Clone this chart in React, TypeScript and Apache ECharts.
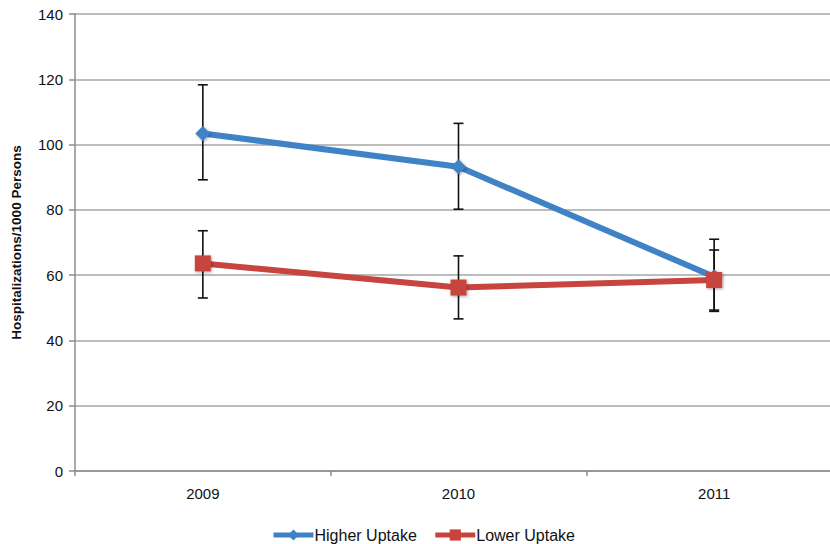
import React, { useEffect, useRef } from "react";
import * as echarts from "echarts";

const categories = ["2009", "2010", "2011"];
const higherValues = [103.4, 93.2, 59.5];
const higherLow = [89.2, 80.2, 49.3];
const higherHigh = [118.3, 106.5, 67.7];
const lowerValues = [63.6, 56.2, 58.5];
const lowerLow = [53.0, 46.6, 48.9];
const lowerHigh = [73.6, 65.9, 71.0];
const yTicks = { min: 0, max: 140, interval: 20 };

const BLUE = "#4082c6";
const RED = "#c8443e";
const FONT = "Liberation Sans";

function errorSeries(name: string, low: number[], high: number[]) {
  return {
    type: "custom",
    name: name + " error",
    z: 1,
    silent: true,
    data: categories.map((_, i) => [i, low[i], high[i]]),
    encode: { x: 0, y: [1, 2] },
    renderItem: (params: any, api: any) => {
      const idx = api.value(0);
      const lo = api.coord([idx, api.value(1)]);
      const hi = api.coord([idx, api.value(2)]);
      const half = 5;
      const style = { stroke: "#111", lineWidth: 1.6 };
      return {
        type: "group",
        children: [
          { type: "line", shape: { x1: lo[0], y1: lo[1], x2: hi[0], y2: hi[1] }, style },
          { type: "line", shape: { x1: lo[0] - half, y1: lo[1], x2: lo[0] + half, y2: lo[1] }, style },
          { type: "line", shape: { x1: hi[0] - half, y1: hi[1], x2: hi[0] + half, y2: hi[1] }, style },
        ],
      };
    },
  };
}

export default function App() {
  const ref = useRef<HTMLDivElement>(null);
  useEffect(() => {
    if (!ref.current) return;
    const chart = echarts.init(ref.current, undefined, { renderer: "svg" });
    chart.setOption({
      animation: false,
      backgroundColor: "#ffffff",
      textStyle: { fontFamily: FONT },
      grid: { left: 75, right: 18, top: 14, bottom: 73 },
      legend: {
        left: 266,
        top: 522,
        itemWidth: 40,
        itemHeight: 14,
        itemGap: 16,
        lineStyle: { width: 5 },
        textStyle: { fontFamily: FONT, fontSize: 16, color: "#111", padding: [0, 0, 0, -4] },
        data: ["Higher Uptake", "Lower Uptake"],
      },
      xAxis: {
        type: "category",
        data: categories,
        boundaryGap: true,
        axisLine: { lineStyle: { color: "#8c8c8c", width: 1.5 } },
        axisTick: { show: true, length: 5, inside: false, lineStyle: { color: "#8c8c8c", width: 1.5 } },
        axisLabel: { fontFamily: FONT, fontSize: 15, color: "#111", margin: 15 },
        splitLine: { show: false },
      },
      yAxis: {
        type: "value",
        min: yTicks.min,
        max: yTicks.max,
        interval: yTicks.interval,
        name: "Hospitalizations/1000 Persons",
        nameLocation: "middle",
        nameGap: 52,
        nameTextStyle: { fontFamily: FONT, fontSize: 13.5, fontWeight: "bold", color: "#111" },
        axisLine: { show: true, lineStyle: { color: "#8c8c8c", width: 1.5 } },
        axisTick: { show: true, length: 6, inside: false, lineStyle: { color: "#8c8c8c", width: 1.5 } },
        axisLabel: { fontFamily: FONT, fontSize: 15, color: "#111", margin: 12 },
        splitLine: { show: true, lineStyle: { color: "#a6a6a6", width: 1.5 } },
      },
      series: [
        errorSeries("Higher Uptake", higherLow, higherHigh),
        errorSeries("Lower Uptake", lowerLow, lowerHigh),
        {
          type: "line",
          name: "Higher Uptake",
          data: higherValues,
          z: 3,
          symbol: "diamond",
          symbolSize: 15,
          lineStyle: { color: BLUE, width: 6 },
          itemStyle: { color: BLUE, shadowBlur: 3, shadowColor: "rgba(0,0,0,0.35)", shadowOffsetX: 1, shadowOffsetY: 1 },
        },
        {
          type: "line",
          name: "Lower Uptake",
          data: lowerValues,
          z: 4,
          symbol: "rect",
          symbolSize: 16,
          lineStyle: { color: RED, width: 6 },
          itemStyle: { color: RED, shadowBlur: 3, shadowColor: "rgba(0,0,0,0.35)", shadowOffsetX: 1, shadowOffsetY: 1 },
        },
      ],
    });
    return () => chart.dispose();
  }, []);
  return (
    <div style={{ position: "fixed", left: 0, top: 0, width: 830, height: 544, overflow: "hidden", background: "#fff" }}>
      <div ref={ref} style={{ width: 860, height: 544 }} />
    </div>
  );
}
